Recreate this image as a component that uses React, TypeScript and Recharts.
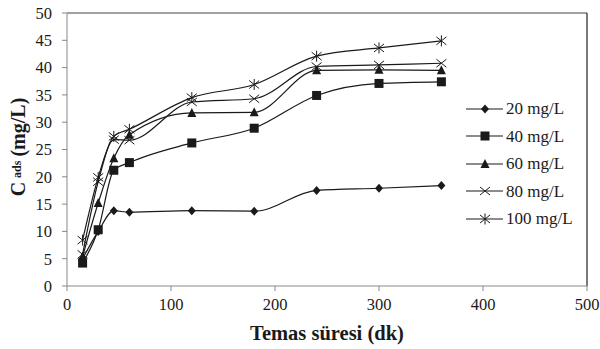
import React from "react";
import { LineChart, Line, XAxis, YAxis, ReferenceLine, Legend } from "recharts";

const times = [15, 30, 45, 60, 120, 180, 240, 300, 360];
const s20 = [5.0, 10.0, 13.8, 13.5, 13.8, 13.7, 17.5, 17.9, 18.4];
const s40 = [4.2, 10.3, 21.2, 22.6, 26.2, 28.9, 34.9, 37.1, 37.4];
const s60 = [5.4, 15.2, 23.4, 27.7, 31.7, 31.8, 39.5, 39.6, 39.5];
const s80 = [5.8, 19.1, 26.8, 26.7, 33.7, 34.3, 40.2, 40.5, 40.8];
const s100 = [8.4, 19.9, 27.4, 28.7, 34.5, 36.9, 42.1, 43.6, 44.9];
const xTicks = [0, 100, 200, 300, 400, 500];
const yTicks = [0, 5, 10, 15, 20, 25, 30, 35, 40, 45, 50];

const seriesDefs = [
  { key: "s20", name: "20 mg/L", kind: "diamond", values: s20 },
  { key: "s40", name: "40 mg/L", kind: "square", values: s40 },
  { key: "s60", name: "60 mg/L", kind: "triangle", values: s60 },
  { key: "s80", name: "80 mg/L", kind: "x", values: s80 },
  { key: "s100", name: "100 mg/L", kind: "star", values: s100 },
];

const data = times.map((t, i) => {
  const row: any = { t };
  seriesDefs.forEach((s) => (row[s.key] = s.values[i]));
  return row;
});

const INK = "#1a1a1a";
const FONT = "Liberation Serif";

function Marker({ kind, cx, cy }: { kind: string; cx: number; cy: number }) {
  if (cx == null || cy == null) return null;
  switch (kind) {
    case "diamond":
      return <polygon points={`${cx},${cy - 4.5} ${cx + 4},${cy} ${cx},${cy + 4.5} ${cx - 4},${cy}`} fill={INK} />;
    case "square":
      return <rect x={cx - 4.5} y={cy - 4.5} width={9} height={9} fill={INK} />;
    case "triangle":
      return <polygon points={`${cx},${cy - 5} ${cx + 4.5},${cy + 4} ${cx - 4.5},${cy + 4}`} fill={INK} />;
    case "x":
      return (
        <g stroke={INK} strokeWidth={1}>
          <line x1={cx - 5} y1={cy - 4} x2={cx + 5} y2={cy + 4} />
          <line x1={cx - 5} y1={cy + 4} x2={cx + 5} y2={cy - 4} />
        </g>
      );
    case "star":
      return (
        <g stroke={INK} strokeWidth={1}>
          <line x1={cx - 5} y1={cy - 4} x2={cx + 5} y2={cy + 4} />
          <line x1={cx - 5} y1={cy + 4} x2={cx + 5} y2={cy - 4} />
          <line x1={cx} y1={cy - 5.5} x2={cx} y2={cy + 5.5} />
        </g>
      );
    default:
      return null;
  }
}

function LegendContent() {
  return (
    <div style={{ fontFamily: FONT, fontSize: 17, color: INK, lineHeight: "27.5px" }}>
      {seriesDefs.map((s) => (
        <div key={s.key} style={{ display: "flex", alignItems: "center", height: 27.5 }}>
          <svg width={40} height={14} style={{ display: "block" }}>
            <line x1={0} y1={7} x2={37} y2={7} stroke={INK} strokeWidth={1.2} />
            <Marker kind={s.kind} cx={19} cy={7} />
          </svg>
          <span style={{ marginLeft: 0, whiteSpace: "nowrap" }}>{s.name}</span>
        </div>
      ))}
    </div>
  );
}

export default function App() {
  return (
    <div style={{ position: "absolute", left: 0, top: 0, width: 600, height: 349, background: "#fff", fontFamily: FONT }}>
      <LineChart width={600} height={349} data={data} margin={{ top: 13, right: 13, bottom: 0, left: 0 }} style={{ fontFamily: FONT }}>
        <XAxis
          dataKey="t"
          type="number"
          domain={[0, 500]}
          ticks={xTicks}
          height={63}
          stroke="#888"
          tickSize={5}
          tickMargin={7}
          tick={{ fill: INK, fontFamily: FONT, fontSize: 16.5 }}
          label={{ value: "Temas süresi (dk)", position: "insideBottom", offset: 9, fill: INK, fontFamily: FONT, fontSize: 20.5, fontWeight: "bold" }}
        />
        <YAxis
          type="number"
          domain={[0, 50]}
          ticks={yTicks}
          width={67}
          stroke="#888"
          tickSize={5}
          tickMargin={10}
          tick={{ fill: INK, fontFamily: FONT, fontSize: 16.5 }}
          label={{
            content: () => (
              <text x={25} y={147} transform="rotate(-90 25 147)" textAnchor="middle" fill={INK} fontFamily={FONT} fontWeight="bold" fontSize={20}>
                <tspan>C</tspan>
                <tspan fontSize={12} dx={4} dy={-4}>ads</tspan>
                <tspan dx={4} dy={4}>(mg/L)</tspan>
              </text>
            ),
          }}
        />
        <ReferenceLine y={50} stroke="#444" strokeWidth={1.2} />
        <ReferenceLine x={500} stroke="#222" strokeWidth={1.2} />
        <Legend
          layout="vertical"
          verticalAlign="middle"
          align="center"
          content={() => <LegendContent />}
          wrapperStyle={{ position: "absolute", left: 466, top: 95, width: 125 }}
        />
        {seriesDefs.map((s) => (
          <Line
            key={s.key}
            dataKey={s.key}
            name={s.name}
            type="monotone"
            stroke={INK}
            strokeWidth={1.2}
            isAnimationActive={false}
            dot={(p: any) => <Marker key={`${s.key}-${p.index}`} kind={s.kind} cx={p.cx} cy={p.cy} />}
            activeDot={false}
          />
        ))}
      </LineChart>
    </div>
  );
}
